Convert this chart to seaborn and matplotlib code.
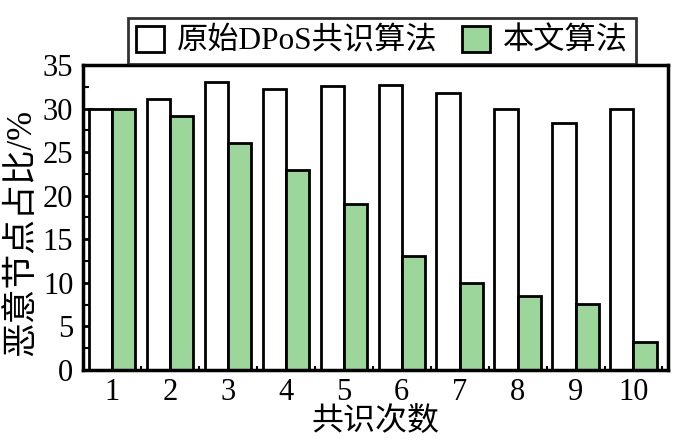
import pandas as pd
import seaborn as sns
import matplotlib.pyplot as plt
from matplotlib.ticker import MultipleLocator, FixedLocator

rounds = ["1", "2", "3", "4", "5", "6", "7", "8", "9", "10"]
dpos_vals = [30.0, 31.1, 33.1, 32.3, 32.6, 32.7, 31.8, 29.9, 28.3, 30.0]
ours_vals = [30.0, 29.1, 26.1, 23.0, 19.1, 13.1, 10.0, 8.5, 7.6, 3.2]
series = ["原始DPoS共识算法", "本文算法"]
colors = ["white", "#9dd69b"]

df = pd.DataFrame({
    "round": rounds * 2,
    "value": dpos_vals + ours_vals,
    "method": [series[0]] * len(rounds) + [series[1]] * len(rounds),
})

sns.set_style("ticks")
plt.rcParams["font.family"] = ["Liberation Serif", "Noto Sans CJK SC"]
plt.rcParams["font.size"] = 22
for key in ["axes.edgecolor", "text.color", "xtick.color", "ytick.color", "axes.labelcolor"]:
    plt.rcParams[key] = "black"

fig = plt.figure(figsize=(6.75, 4.42), dpi=100)
ax = fig.add_axes([0.123, 0.163, 0.867, 0.690])

sns.barplot(data=df, x="round", y="value", hue="method", palette=colors,
            edgecolor="black", linewidth=2, saturation=1, ax=ax)

ax.set_xlim(-0.5, 9.6)
ax.set_ylim(0, 35)
ax.yaxis.set_major_locator(MultipleLocator(5))
ax.yaxis.set_minor_locator(MultipleLocator(2.5))
ax.xaxis.set_minor_locator(FixedLocator([i + 0.5 for i in range(10)]))
ax.tick_params(axis="y", which="major", direction="in", length=7, width=2, labelsize=22, pad=7)
ax.tick_params(axis="y", which="minor", direction="in", length=4, width=1.5)
ax.tick_params(axis="x", which="major", length=0, labelsize=22, pad=6)
ax.tick_params(axis="x", which="minor", direction="in", length=3, width=1.5)
for s in ax.spines.values():
    s.set_visible(True)
    s.set_linewidth(2.5)
    s.set_color("black")

ax.set_xlabel("共识次数", fontsize=23, labelpad=0)
ax.set_ylabel("恶意节点占比/%", fontsize=25, labelpad=2)
ax.yaxis.set_label_coords(-0.077, 0.45)

handles, labels = ax.get_legend_handles_labels()
ax.get_legend().remove()
leg = fig.legend(handles, labels, loc="upper center", bbox_to_anchor=(0.566, 0.995),
                 ncol=2, frameon=True, fancybox=False, edgecolor="black",
                 handlelength=0.9, handleheight=0.9, handletextpad=0.4, columnspacing=0.8,
                 borderpad=0.25, fontsize=22.5)
leg.get_frame().set_linewidth(2)

fig.savefig("out.png", dpi=100)
